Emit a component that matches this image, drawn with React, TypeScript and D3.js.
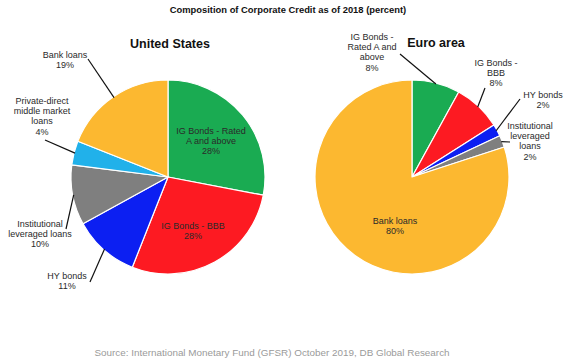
import React, { useEffect } from 'react';
import * as d3 from 'd3';

// data
const usCategories = ['IG Bonds - Rated A and above', 'IG Bonds - BBB', 'HY bonds', 'Institutional leveraged loans', 'Private-direct middle market loans', 'Bank loans'];
const usValues = [28, 28, 11, 10, 4, 19];
const usColors = ['#1aab52', '#fd1a22', '#0c1ff2', '#7f7f7f', '#21b1ea', '#fcb830'];

const euCategories = ['IG Bonds - Rated A and above', 'IG Bonds - BBB', 'HY bonds', 'Institutional leveraged loans', 'Bank loans'];
const euValues = [8, 8, 2, 2, 80];
const euColors = ['#1aab52', '#fd1a22', '#0c1ff2', '#7f7f7f', '#fcb830'];

// label text lines (percent appended from values)
const usLabelLines = [['IG Bonds - Rated', 'A and above'], ['IG Bonds - BBB'], ['HY bonds'], ['Institutional', 'leveraged loans'], ['Private-direct', 'middle market', 'loans'], ['Bank loans']];
const euLabelLines = [['IG Bonds -', 'Rated A and', 'above'], ['IG Bonds -', 'BBB'], ['HY bonds'], ['Institutional', 'leveraged', 'loans'], ['Bank loans']];

// layout: label centre x / first baseline y, and leader start (null = inside label)
const usLabelPos = [
  { x: 211, y: 134, lead: null },
  { x: 193, y: 229, lead: null },
  { x: 67, y: 279, lead: [90, 282] },
  { x: 40, y: 227, lead: [66, 229] },
  { x: 42, y: 104, lead: [45, 140] },
  { x: 65, y: 58, lead: [88, 59] },
];
const euLabelPos = [
  { x: 372, y: 40, lead: [400, 54] },
  { x: 496, y: 66, lead: [485, 88] },
  { x: 543, y: 98, lead: [520, 99] },
  { x: 530, y: 129, lead: [510, 142] },
  { x: 395, y: 224, lead: null },
];

const W = 580;
const H = 364;
const R = 97;
const FONT = "'Liberation Sans', Arial, sans-serif";

type Pos = { x: number; y: number; lead: number[] | null };

const Pie = ({ cx, cy, values, colors, lines, pos }: { cx: number; cy: number; values: number[]; colors: string[]; lines: string[][]; pos: Pos[] }) => {
  const arcs = d3.pie<number>().sort(null).value(d => d)(values);
  const arc = d3.arc<d3.PieArcDatum<number>>().innerRadius(0).outerRadius(R);
  const edge = d3.arc<d3.PieArcDatum<number>>().innerRadius(R - 1).outerRadius(R - 1);
  return (
    <g>
      <g transform={`translate(${cx},${cy})`}>
        {arcs.map((a, i) => (
          <path key={i} d={arc(a) || ''} fill={colors[i]} stroke="#fff" strokeWidth={1.2} strokeLinejoin="round" />
        ))}
      </g>
      {arcs.map((a, i) => {
        const p = pos[i];
        if (!p.lead) return null;
        const [ex, ey] = edge.centroid(a);
        return <line key={'l' + i} x1={p.lead[0]} y1={p.lead[1]} x2={cx + ex} y2={cy + ey} stroke="#111" strokeWidth={1.2} />;
      })}
      {arcs.map((a, i) => {
        const p = pos[i];
        const txt = [...lines[i], values[i] + '%'];
        return (
          <text key={'t' + i} x={p.x} y={p.y} textAnchor="middle" fontSize={9} fill="#2a2a2a" fontFamily={FONT}>
            {txt.map((t, j) => (
              <tspan key={j} x={p.x} dy={j === 0 ? 0 : 10.2}>{t}</tspan>
            ))}
          </text>
        );
      })}
    </g>
  );
};

export default function App() {
  useEffect(() => {
    document.body.style.margin = '0';
  }, []);
  return (
    <svg width={W} height={H} style={{ display: 'block', background: '#fff' }} fontFamily={FONT}>
      <text x={288} y={13} textAnchor="middle" fontSize={9.4} fontWeight="bold" fill="#111">
        Composition of Corporate Credit as of 2018 (percent)
      </text>
      <text x={170} y={48} textAnchor="middle" fontSize={12.5} fontWeight="bold" fill="#111">United States</text>
      <text x={436} y={47} textAnchor="middle" fontSize={12.5} fontWeight="bold" fill="#111">Euro area</text>
      <Pie cx={168} cy={177} values={usValues} colors={usColors} lines={usLabelLines} pos={usLabelPos} />
      <Pie cx={412} cy={177} values={euValues} colors={euColors} lines={euLabelLines} pos={euLabelPos} />
      <text x={272} y={356} textAnchor="middle" fontSize={9.9} fill="#9a9a9a">
        Source: International Monetary Fund (GFSR) October 2019, DB Global Research
      </text>
    </svg>
  );
}
